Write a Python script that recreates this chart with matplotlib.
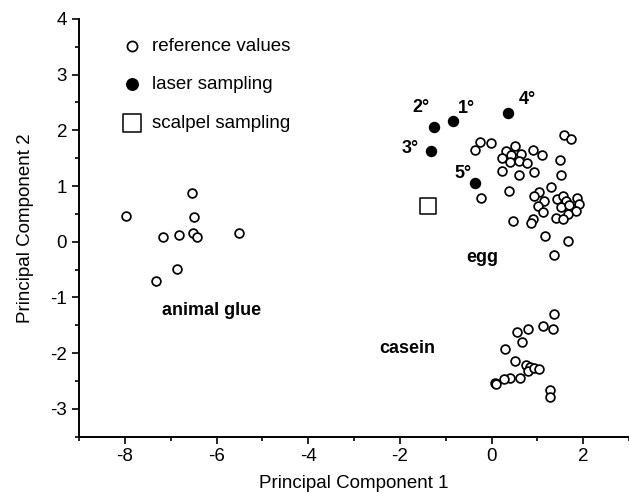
import matplotlib
matplotlib.use("Agg")
import matplotlib.pyplot as plt
from matplotlib.ticker import MultipleLocator

plt.rcParams['font.family'] = ['Liberation Sans', 'DejaVu Sans']
plt.rcParams['axes.unicode_minus'] = False

# reference values (open circles)
glue_x = [-6.54, -7.97, -6.50, -7.17, -6.82, -6.51, -6.42, -5.52, -6.87, -7.33]
glue_y = [0.88, 0.46, 0.44, 0.09, 0.12, 0.15, 0.08, 0.15, -0.49, -0.71]

egg_x = [-0.26, -0.01, -0.35, 1.59, 1.74, 0.31, 0.51, 0.91, 1.10, 0.23, 0.43, 0.64,
         0.40, 0.59, 0.78, 1.49, 0.22, 0.93, 0.59, 1.52, 0.38, 1.29, -0.22, 1.04,
         0.93, 1.15, 1.02, 1.12, 1.43, 1.57, 1.62, 1.86, 1.52, 1.69, 1.91, 1.84,
         1.66, 1.41, 1.57, 0.46, 0.90, 0.86, 1.17, 1.67, 1.37]
egg_y = [1.79, 1.77, 1.65, 1.92, 1.84, 1.63, 1.71, 1.64, 1.56, 1.50, 1.55, 1.58,
         1.44, 1.45, 1.41, 1.46, 1.27, 1.26, 1.19, 1.19, 0.91, 0.98, 0.79, 0.89,
         0.82, 0.73, 0.65, 0.54, 0.77, 0.82, 0.73, 0.79, 0.62, 0.66, 0.67, 0.56,
         0.50, 0.42, 0.40, 0.37, 0.41, 0.33, 0.11, 0.02, -0.24]

casein_x = [1.36, 0.56, 0.80, 1.12, 1.35, 0.66, 0.29, 0.51, 0.75, 0.85, 0.80, 0.92,
            1.03, 0.63, 0.40, 0.27, 0.07, 0.09, 1.28, 1.28]
casein_y = [-1.30, -1.62, -1.57, -1.52, -1.57, -1.80, -1.92, -2.14, -2.21, -2.25,
            -2.32, -2.27, -2.29, -2.44, -2.45, -2.46, -2.54, -2.56, -2.66, -2.79]

# laser sampling (filled) and scalpel sampling (square)
laser_labels = ['1°', '2°', '3°', '4°', '5°']
laser_x = [-0.85, -1.25, -1.32, 0.35, -0.35]
laser_y = [2.16, 2.06, 1.63, 2.31, 1.06]
laser_label_x = [-0.54, -1.54, -1.78, 0.78, -0.62]
laser_label_y = [2.39, 2.41, 1.67, 2.56, 1.22]

scalpel_x = [-1.39]
scalpel_y = [0.64]

groups = ['egg', 'casein', 'animal glue']
group_x = [-0.20, -1.83, -6.11]
group_y = [-0.29, -1.91, -1.23]

fig = plt.figure(figsize=(6.29, 4.99), dpi=100)
ax = fig.add_axes([0.1256, 0.125, 0.8744, 0.837])

ref_x = glue_x + egg_x + casein_x
ref_y = glue_y + egg_y + casein_y
ax.scatter(ref_x, ref_y, s=40, facecolors='white', edgecolors='black',
           linewidths=1.25, label='reference values', zorder=3)
ax.scatter(laser_x, laser_y, s=52, color='black', label='laser sampling', zorder=3)
ax.scatter(scalpel_x, scalpel_y, s=135, marker='s', facecolors='white',
           edgecolors='black', linewidths=1.1, label='scalpel sampling', zorder=3)

for lab, x, y in zip(laser_labels, laser_label_x, laser_label_y):
    ax.text(x, y, lab, fontsize=13, fontweight='bold', ha='center', va='center')
for lab, x, y in zip(groups, group_x, group_y):
    ax.text(x, y, lab, fontsize=13, fontweight='bold', ha='center', va='center')

ax.set_xlim(-9, 3)
ax.set_ylim(-3.5, 4)
ax.xaxis.set_major_locator(MultipleLocator(2))
ax.xaxis.set_minor_locator(MultipleLocator(1))
ax.yaxis.set_major_locator(MultipleLocator(1))
ax.yaxis.set_minor_locator(MultipleLocator(0.5))
ax.tick_params(which='major', direction='out', length=5, width=1.2, labelsize=13.5)
ax.tick_params(which='minor', direction='out', length=3, width=1.2)

for side in ['top', 'right']:
    ax.spines[side].set_visible(False)
for side in ['left', 'bottom']:
    ax.spines[side].set_linewidth(1.4)

ax.set_xlabel('Principal Component 1', fontsize=13.5, labelpad=7)
ax.set_ylabel('Principal Component 2', fontsize=13.5, labelpad=12)

ax.legend(loc='upper left', bbox_to_anchor=(0.062, 0.978), frameon=False,
          fontsize=13.5, handlelength=1.0, handletextpad=0.55, labelspacing=1.15,
          borderpad=0, scatterpoints=1, markerscale=1.15)

fig.savefig('out.png', dpi=100)
